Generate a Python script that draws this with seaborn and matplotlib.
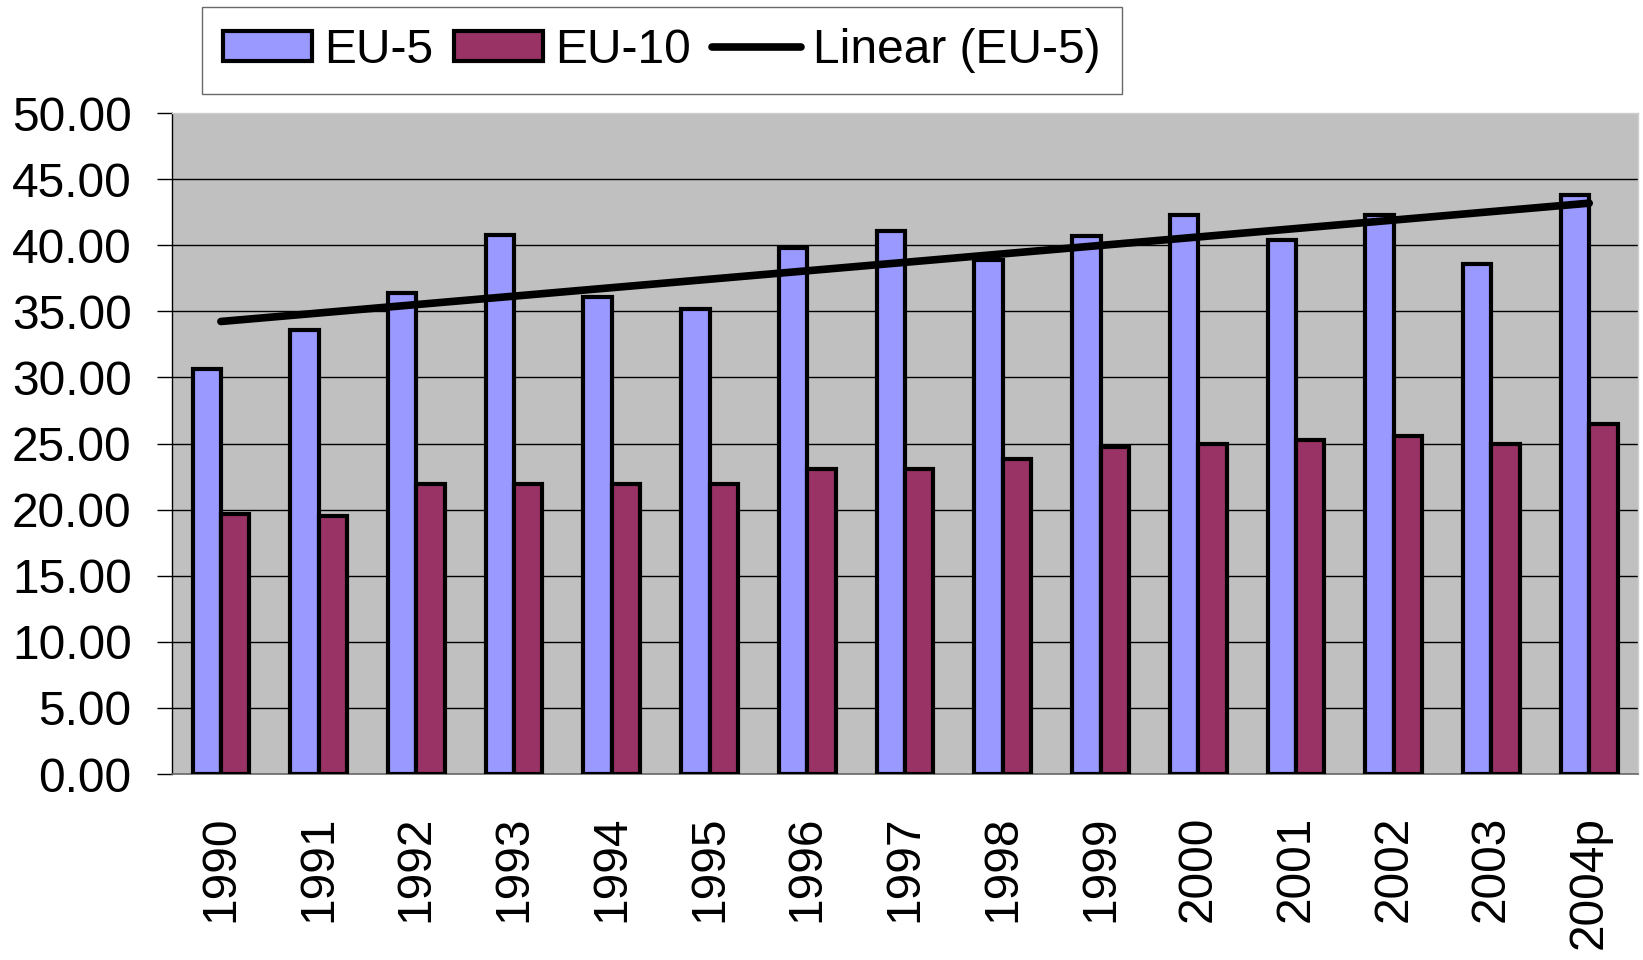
import numpy as np
import pandas as pd
import matplotlib
matplotlib.use("Agg")
import matplotlib.pyplot as plt
import seaborn as sns
from matplotlib.patches import Patch
from matplotlib.lines import Line2D
from matplotlib.ticker import FuncFormatter, MultipleLocator

# ---- data ----
years = ["1990", "1991", "1992", "1993", "1994", "1995", "1996", "1997",
         "1998", "1999", "2000", "2001", "2002", "2003", "2004p"]
eu5 = [30.6, 33.6, 36.4, 40.8, 36.1, 35.2, 39.8, 41.1, 38.9, 40.7, 42.3, 40.4, 42.3, 38.6, 43.8]
eu10 = [19.7, 19.5, 21.9, 21.9, 21.9, 21.9, 23.1, 23.1, 23.8, 24.7, 25.0, 25.3, 25.6, 25.0, 26.5]
series_names = ["EU-5", "EU-10"]
trend_label = "Linear (EU-5)"
colors = {"EU-5": "#9999FF", "EU-10": "#993366"}

df = pd.DataFrame({
    "year": years * 2,
    "value": eu5 + eu10,
    "series": [series_names[0]] * len(years) + [series_names[1]] * len(years),
})

sns.set_style("white")
plt.rcParams["font.family"] = ["Liberation Sans", "DejaVu Sans"]
plt.rcParams["text.color"] = "black"
plt.rcParams["xtick.color"] = "black"
plt.rcParams["ytick.color"] = "black"
FS = 34.5

fig = plt.figure(figsize=(16.43, 9.6), dpi=100)
ax = fig.add_axes([0.1047, 0.19375, 0.8923, 0.6885])
ax.set_facecolor("#C0C0C0")

sns.barplot(data=df, x="year", y="value", hue="series", order=years,
            hue_order=series_names, palette=colors, saturation=1,
            width=0.58, gap=0,
            edgecolor="black", linewidth=3, errorbar=None, ax=ax,
            legend=False, zorder=3)

# linear trend of EU-5
pos = np.arange(len(years))
coef = np.polyfit(pos, eu5, 1)
ax.plot(pos, np.polyval(coef, pos), color="black", lw=5.5,
        solid_capstyle="round", zorder=4)

ax.set_xlim(-0.5, len(years) - 0.5)
ax.set_ylim(0, 50)
ax.yaxis.set_major_locator(MultipleLocator(5))
ax.yaxis.set_major_formatter(FuncFormatter(lambda v, p: f"{v:.2f}"))
ax.yaxis.grid(True, color="black", lw=1.0, zorder=1)
ax.set_axisbelow(True)
for gl, t in zip(ax.get_ygridlines(), ax.get_yticks()):
    if t >= 50 or t <= 0:
        gl.set_visible(False)

ax.set_xlabel("")
ax.set_ylabel("")
ax.set_xticks(pos)
ax.set_xticklabels(years, rotation=90, fontsize=FS, color="black")
ax.set_xticks(np.arange(-0.5, len(years), 1), minor=True)
ax.tick_params(axis="x", which="major", length=0, pad=30)
ax.tick_params(axis="x", which="minor", length=12, width=1, color="#555555", direction="out")
ax.tick_params(axis="y", which="major", length=11, width=1, color="black",
               direction="out", labelsize=FS, pad=18, labelcolor="black")
ax.tick_params(left=True, bottom=True)

for s in ["top", "right"]:
    ax.spines[s].set_visible(True)
    ax.spines[s].set_color("#CFCFCF")
    ax.spines[s].set_linewidth(1)
ax.spines["left"].set_color("black")
ax.spines["left"].set_linewidth(1)
ax.spines["bottom"].set_color("#666666")
ax.spines["bottom"].set_linewidth(1.2)

handles = [
    Patch(facecolor=colors["EU-5"], edgecolor="black", lw=3),
    Patch(facecolor=colors["EU-10"], edgecolor="black", lw=3),
    Line2D([0], [0], color="black", lw=5.5, solid_capstyle="round"),
]
leg = fig.legend(handles, series_names + [trend_label], loc="upper left",
                 bbox_to_anchor=(0.123, 0.993), bbox_transform=fig.transFigure,
                 ncol=3, fontsize=FS, frameon=True, fancybox=False,
                 handlelength=1.85, handleheight=0.6, handletextpad=0.25,
                 columnspacing=0.45, borderpad=0.44, borderaxespad=0)
leg.get_frame().set_edgecolor("#444444")
leg.get_frame().set_linewidth(1)
leg.get_frame().set_facecolor("white")

fig.savefig("out.png", dpi=100, facecolor="white")
